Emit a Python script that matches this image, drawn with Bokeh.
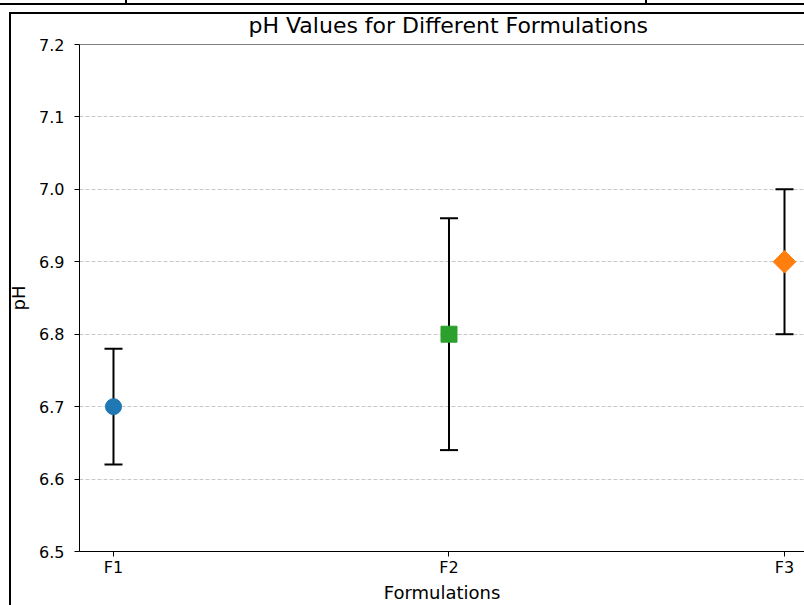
import math
from bokeh.plotting import figure
from bokeh.models import (ColumnDataSource, Whisker, TeeHead, FixedTicker, Span,
                          Range1d, PrintfTickFormatter, InlineStyleSheet)
from bokeh.embed import file_html
from bokeh.resources import INLINE

# ---- data ----
formulations = ["F1", "F2", "F3"]
ph_mean = [6.7, 6.8, 6.9]
ph_err = [0.08, 0.16, 0.10]
marker_colors = ["#1f77b4", "#2ca02c", "#ff7f0e"]
marker_shapes = ["circle", "square", "square"]
marker_angles = [0.0, 0.0, math.pi / 4]
y_ticks = [6.5, 6.6, 6.7, 6.8, 6.9, 7.0, 7.1, 7.2]
x_label = "Formulations"
y_label = "pH"
title = "pH Values for Different Formulations"

xpos = list(range(len(formulations)))
lower = [m - e for m, e in zip(ph_mean, ph_err)]
upper = [m + e for m, e in zip(ph_mean, ph_err)]

FONT = "DejaVu Sans"

# page/table border lines that surround the chart in the reference
border_css = InlineStyleSheet(css="""
:host { position: relative; }
:host::before {
  content: ""; position: absolute; left: 0; top: 0; width: 100%; height: 6px;
  pointer-events: none; z-index: 20;
  background:
    linear-gradient(#000, #000) 0 3px / 100% 2px no-repeat,
    linear-gradient(#000, #000) 125px 0 / 2px 4px no-repeat,
    linear-gradient(#000, #000) 645px 0 / 2px 4px no-repeat;
}
:host::after {
  content: ""; position: absolute; left: 9px; top: 12px; right: 0; bottom: 0;
  border-left: 2px solid #000; border-top: 2px solid #000;
  pointer-events: none; z-index: 20;
}
""")

p = figure(width=804, height=605,
           x_range=Range1d(-0.1013, 2.0596), y_range=Range1d(6.5, 7.2),
           output_backend="svg", toolbar_location=None,
           min_border_left=79, min_border_right=0,
           min_border_top=44, min_border_bottom=53,
           stylesheets=[border_css])

p.background_fill_color = "white"
p.border_fill_color = "white"
p.outline_line_color = None

# title
p.title.text = title
p.title.text_font = FONT
p.title.text_font_size = "22px"
p.title.text_font_style = "normal"
p.title.text_color = "black"
p.title.align = "left"
p.title.offset = 169
p.title.standoff = 13

# grid
p.xgrid.visible = False
p.ygrid.grid_line_color = "#b0b0b0"
p.ygrid.grid_line_alpha = 0.7
p.ygrid.grid_line_dash = "4 2"
p.ygrid.grid_line_width = 1

# axes
for ax in (p.xaxis[0], p.yaxis[0]):
    ax.axis_line_color = "black"
    ax.axis_line_width = 1
    ax.major_tick_line_color = "black"
    ax.major_tick_out = 5
    ax.major_tick_in = 0
    ax.minor_tick_line_color = None
    ax.major_label_text_font = FONT
    ax.major_label_text_font_size = "16px"
    ax.major_label_text_color = "black"
    ax.axis_label_text_font = FONT
    ax.axis_label_text_font_size = "18px"
    ax.axis_label_text_font_style = "normal"
    ax.axis_label_text_color = "black"

p.xaxis.ticker = FixedTicker(ticks=xpos)
p.xaxis.major_label_overrides = {i: f for i, f in zip(xpos, formulations)}
p.xaxis.major_label_standoff = 1
p.xaxis.axis_label = x_label
p.xaxis.axis_label_standoff = 2

p.yaxis.ticker = FixedTicker(ticks=y_ticks)
p.yaxis.formatter = PrintfTickFormatter(format="%.1f")
p.yaxis.major_label_standoff = 10
p.yaxis.axis_label = y_label
p.yaxis.axis_label_standoff = 7

# top spine
p.add_layout(Span(location=7.2, dimension="width", line_color="black", line_width=1))

# error bars
src = ColumnDataSource(dict(x=xpos, lower=lower, upper=upper))
p.add_layout(Whisker(base="x", lower="lower", upper="upper", source=src,
                     line_color="black", line_width=2, level="glyph",
                     upper_head=TeeHead(size=18, line_color="black", line_width=2),
                     lower_head=TeeHead(size=18, line_color="black", line_width=2)))

# markers
for xi, yi, c, mk, ang in zip(xpos, ph_mean, marker_colors, marker_shapes, marker_angles):
    p.scatter(x=[xi], y=[yi], marker=mk, size=16, angle=ang,
              fill_color=c, line_color=c, level="overlay")

open("out.html", "w").write(file_html(p, INLINE))
